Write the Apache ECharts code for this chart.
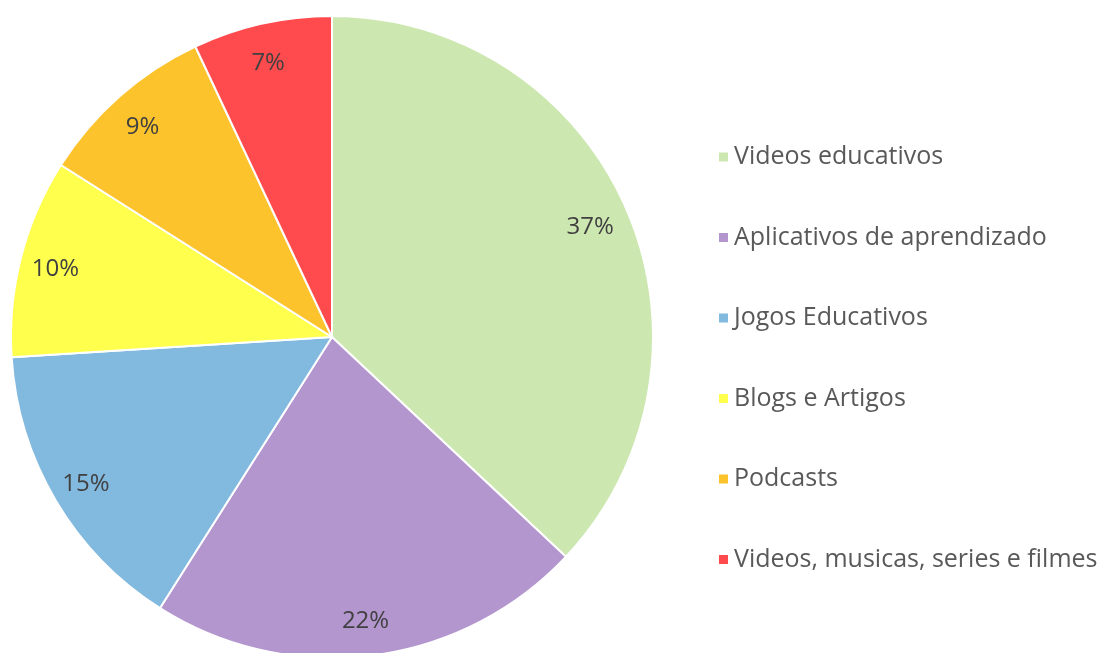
<!DOCTYPE html>
<html>
<head>
<meta charset="utf-8">
<script src="https://cdn.jsdelivr.net/npm/echarts@6/dist/echarts.min.js"></script>
<style>
    html, body { margin: 0; padding: 0; background: #fff; }
    #chart { width: 1104px; height: 653px; }
</style>
</head>
<body>
<div id="chart"></div>
<script>
// categorias e percentuais
var categories = ['Videos educativos', 'Aplicativos de aprendizado', 'Jogos Educativos', 'Blogs e Artigos', 'Podcasts', 'Videos, musicas, series e filmes'];
var values = [37, 22, 15, 10, 9, 7];
var colors = ['#CDE7B0', '#B496CF', '#82B9DE', '#FFFF4D', '#FDC32C', '#FF4B4D'];

var pieData = categories.map(function (name, i) {
    return { name: name, value: values[i], itemStyle: { color: colors[i] } };
});

var myChart = echarts.init(document.getElementById('chart'));

var option = {
    animation: false,
    legend: {
        orient: 'vertical',
        left: 712,
        top: 137,
        itemWidth: 11,
        itemHeight: 11,
        itemGap: 50.5,
        icon: 'rect',
        data: categories,
        textStyle: {
            fontFamily: 'Open Sans',
            fontSize: 25,
            color: '#595959',
            lineHeight: 30
        }
    },
    series: [
        {
            name: 'fatias',
            type: 'pie',
            center: [332, 337],
            radius: [0, 321],
            startAngle: 90,
            clockwise: true,
            silent: true,
            label: { show: false },
            labelLine: { show: false },
            itemStyle: { borderColor: '#fff', borderWidth: 2 },
            data: pieData
        },
        {
            // série transparente só para posicionar os rótulos
            name: 'rotulos',
            type: 'pie',
            center: [330, 340],
            radius: [240, 321],
            startAngle: 90,
            clockwise: true,
            silent: true,
            itemStyle: { color: 'rgba(0,0,0,0)' },
            label: {
                show: true,
                position: 'inside',
                formatter: '{c}%',
                fontFamily: 'Open Sans',
                fontSize: 24,
                color: '#404040'
            },
            labelLine: { show: false },
            data: categories.map(function (name, i) {
                return { name: name, value: values[i] };
            })
        }
    ]
};

myChart.setOption(option);
</script>
</body>
</html>
